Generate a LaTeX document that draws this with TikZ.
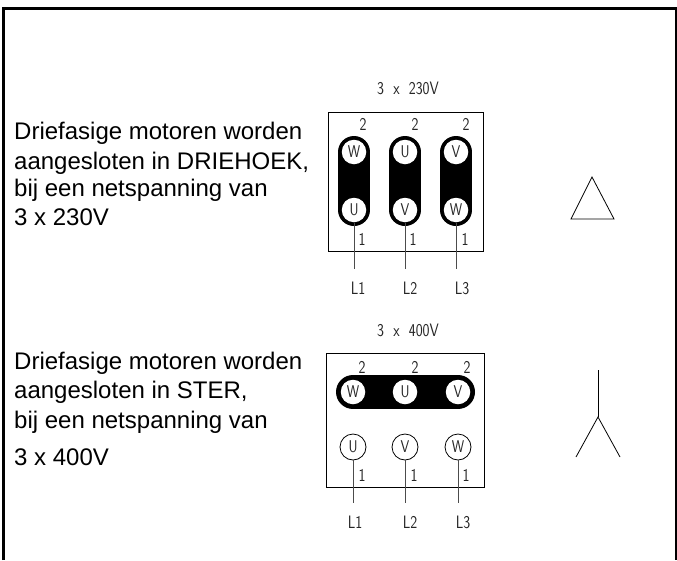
\documentclass[tikz,border=0pt]{standalone}
\usepackage{fontspec}
\setmainfont{Liberation Sans}
\newfontfamily\cadfont[FakeStretch=0.82,WordSpace=2]{Latin Modern Sans}
\tikzset{
  every picture/.style={x=1pt,y=-1pt},
  txt/.style={anchor=base west,inner sep=0pt,font=\fontsize{24}{26}\selectfont},
  cad/.style={inner sep=0pt,text=black!85,font=\cadfont\fontsize{18}{20}\selectfont},
  term/.style={circle,draw=black,line width=0.8pt,fill=white,minimum size=26pt,inner sep=0pt,text=black!85,font=\cadfont\fontsize{17}{20}\selectfont},
  termb/.style={term,draw=none,minimum size=24.5pt},
  link/.style={line width=32pt,line cap=round},
  wire/.style={line width=0.8pt,draw=black!70},
}
\begin{document}
\begin{tikzpicture}
\useasboundingbox (0,0) rectangle (677,560);
\draw[line width=3pt] (3,560) -- (3,8) -- (676,8) -- (676,560);

\node[txt] (t1) at (14,139) {Driefasige motoren worden};
\node[txt] (t2) at (14,169) {aangesloten in DRIEHOEK,};
\node[txt] (t3) at (14,196) {bij een netspanning van};
\node[txt] (t4) at (14,225) {3 x 230V};

\node[txt] (t5) at (14,369) {Driefasige motoren worden};
\node[txt] (t6) at (14,398) {aangesloten in STER,};
\node[txt] (t7) at (14,428) {bij een netspanning van};
\node[txt] (t8) at (14,465) {3 x 400V};

% driehoek
\node[cad] (titleA) at (408,88) {3 x 230V};
\node[draw,line width=0.8pt,minimum width=155pt,minimum height=139pt,inner sep=0pt] (boxA) at (405.5,181.5) {};

\coordinate (a1) at (354,152);
\coordinate (a2) at (405,152);
\coordinate (a3) at (456,152);
\coordinate (b1) at (354,210);
\coordinate (b2) at (405,210);
\coordinate (b3) at (456,210);

\draw[link] (a1) -- (b1);
\draw[link] (a2) -- (b2);
\draw[link] (a3) -- (b3);

\node[termb] (wA) at (a1) {W};
\node[termb] (uA) at (a2) {U};
\node[termb] (vA) at (a3) {V};
\node[termb] (uB) at (b1) {U};
\node[termb] (vB) at (b2) {V};
\node[termb] (wB) at (b3) {W};

\node[cad] (n1) at (363,124) {2};
\node[cad] (n2) at (415,124) {2};
\node[cad] (n3) at (466,124) {2};
\node[cad] (n4) at (362,239) {1};
\node[cad] (n5) at (413,239) {1};
\node[cad] (n6) at (465,239) {1};

\node[cad] (l1) at (358,288) {L1};
\node[cad] (l2) at (410,288) {L2};
\node[cad] (l3) at (462,288) {L3};

\coordinate (e1) at (354,269);
\coordinate (e2) at (405,269);
\coordinate (e3) at (456,269);
\draw[wire] (uB) -- (e1);
\draw[wire] (vB) -- (e2);
\draw[wire] (wB) -- (e3);

\coordinate (p1) at (592,177);
\coordinate (p2) at (614,219);
\coordinate (p3) at (571,219);
\draw[line width=0.8pt] (p1) -- (p2) -- (p3) -- cycle;

% ster
\node[cad] (titleB) at (408,330) {3 x 400V};
\node[draw,line width=0.8pt,minimum width=158pt,minimum height=134pt,inner sep=0pt] (boxB) at (405,420) {};

\coordinate (c1) at (353,392);
\coordinate (c2) at (405,392);
\coordinate (c3) at (458,392);
\draw[line width=34pt,line cap=round] (c1) -- (c3);

\node[termb] (wC) at (c1) {W};
\node[termb] (uC) at (c2) {U};
\node[termb] (vC) at (c3) {V};
\node[term] (uD) at (353,447) {U};
\node[term] (vD) at (405,447) {V};
\node[term] (wD) at (458,447) {W};

\node[cad] (n7) at (362,367) {2};
\node[cad] (n8) at (415,367) {2};
\node[cad] (n9) at (467,367) {2};
\node[cad] (n10) at (362,475) {1};
\node[cad] (n11) at (414,475) {1};
\node[cad] (n12) at (466,475) {1};

\node[cad] (l4) at (355,522) {L1};
\node[cad] (l5) at (410,522) {L2};
\node[cad] (l6) at (463,522) {L3};

\coordinate (e4) at (353,503);
\coordinate (e5) at (405,503);
\coordinate (e6) at (458,503);
\draw[wire] (uD) -- (e4);
\draw[wire] (vD) -- (e5);
\draw[wire] (wD) -- (e6);

\coordinate (s1) at (598,370);
\coordinate (s2) at (598,417);
\coordinate (s3) at (576,457);
\coordinate (s4) at (620,457);
\draw[line width=0.8pt] (s1) -- (s2);
\draw[line width=0.8pt] (s3) -- (s2) -- (s4);
\end{tikzpicture}
\end{document}
